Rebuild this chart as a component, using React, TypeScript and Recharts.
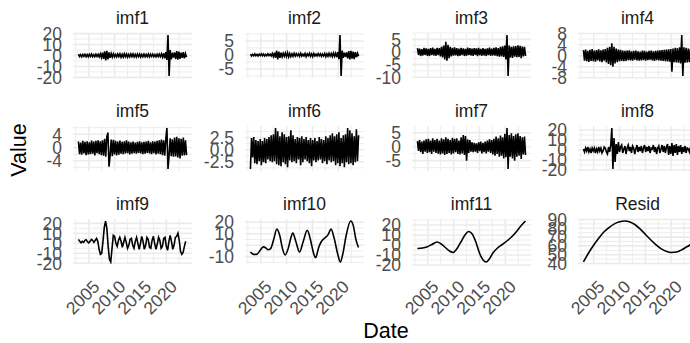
import { LineChart, Line, XAxis, YAxis, CartesianGrid } from 'recharts'

const FONT = '"Liberation Sans", Arial, Helvetica, sans-serif'
const TICK_COLOR = '#4D4D4D'
const GRID = '#EBEBEB'

// time axis (decimal years)
const T_START = 2003.0
const T_END = 2023.92
const X_DOMAIN: [number, number] = [2001.95, 2024.97]
const yearTicks = [2005, 2010, 2015, 2020]
const yearMinor = [2002.5, 2007.5, 2012.5, 2017.5, 2022.5]

// high frequency components, evenly spaced over the period
const imf1 = [
  1.2, -1, 0.8, -1.3, 1, -0.7, 1.1, -1, 0.9, -1.2,
  1, -0.9, 1.3, -1, 0.8, -1.1, 1.2, -0.9, 1, -1.3,
  1.5, -1.8, 2.5, -3, 3.8, -4.5, 4.2, -3.5, 2.8, -2.2,
  1.8, -1.5, 1.6, -1.2, 1, -1.3, 1.4, -1, 1.5, -1.6,
  1.2, -1.4, 1.6, -1.1, 1.3, -1.5, 1, -1.2, 1.4, -1,
  1.5, -1.2, 1.1, -1.4, 1.3, -1, 1.2, -1.5, 1, -1.1,
  1.3, -1.2, 1, -1.1, 1.4, -1.3, 1.1, -0.9, 1.2, -1,
  0.9, -1.2, 1.1, -1, 1.3, -1.1, 1.5, -1.6, 2, -2.5,
  3, -4, 18.7, -18.7, 5, -3.5, 2.5, -2, 2.8, -3.2,
  4, -3.8, 3.5, -3, 2.6, -2.2, 3, -2.5, 1.8, -1.5,
]
const imf2 = [
  0.3, -0.4, 0.2, -0.3, 0.4, -0.3, 0.2, -0.4, 0.3, -0.2,
  0.4, -0.3, 0.3, -0.4, 0.2, -0.3, 0.4, -0.2, 0.3, -0.4,
  0.5, -0.6, 0.8, -1, 1.5, -1.6, 1.2, -1, 0.8, -0.7,
  0.6, -0.5, 0.7, -0.6, 0.8, -0.7, 0.5, -0.6, 0.4, -0.5,
  0.6, -0.4, 0.5, -0.3, 0.4, -0.5, 0.6, -0.4, 0.3, -0.4,
  0.5, -0.6, 0.4, -0.3, 0.6, -0.5, 0.4, -0.6, 0.5, -0.4,
  0.3, -0.4, 0.5, -0.3, 0.4, -0.5, 0.3, -0.4, 0.5, -0.6,
  0.4, -0.5, 0.6, -0.4, 0.5, -0.6, 0.7, -0.5, 0.6, -0.8,
  1, -1.5, 7.1, -7.5, 1.5, -1, 0.8, -0.7, 0.9, -1.2,
  1.4, -1.6, 1.5, -1.3, 1.2, -1.5, 1, -0.8, 0.6, -0.5,
]
const imf3 = [
  1.5, -1.2, 1.3, -1.6, 1.1, -1.4, 1.6, -1.2, 1.4, -1.5,
  1.2, -1.6, 1.5, -1.3, 1.7, -1.4, 1.2, -1.5, 1.6, -1.3,
  1.5, -1.8, 2, -2.2, 2.5, -3, 4, -3.5, 2.8, -2.5,
  2, -1.8, 1.6, -1.5, 1.8, -1.4, 1.5, -1.7, 1.3, -1.5,
  1.6, -1.3, 1.4, -1.6, 1.2, -1.5, 1.7, -1.3, 1.5, -1.4,
  1.3, -1.6, 1.5, -1.2, 1.4, -1.7, 1.6, -1.3, 1.2, -1.5,
  1.5, -1.4, 1.2, -1.6, 1.4, -1.3, 1.7, -1.5, 1.3, -1.4,
  1.6, -1.5, 1.8, -1.7, 1.5, -1.9, 2, -1.8, 2.2, -2,
  2.5, -3, 6.7, -9.5, 2.5, -2.2, 2, -2.4, 2.2, -1.9,
  2.3, -2.1, 2.6, -2, 2.4, -2.5, 2.1, -1.8, 2, -1.6,
]
const imf4 = [
  2, -1.8, 2.2, -2, 1.7, -2.3, 2.1, -1.9, 2.4, -2,
  1.8, -2.2, 2, -1.7, 2.3, -2.1, 1.9, -2.4, 2.2, -1.8,
  2.4, -2.5, 2.8, -3, 3.2, -3.5, 4.5, -4, 3.2, -2.8,
  2.6, -2.4, 2.2, -2, 2.1, -1.9, 1.8, -2, 1.7, -1.9,
  1.8, -1.6, 1.9, -1.7, 1.6, -1.8, 1.7, -1.5, 1.8, -1.7,
  1.6, -1.8, 1.5, -1.7, 1.8, -1.6, 1.7, -1.8, 1.5, -1.6,
  1.7, -1.5, 1.8, -1.7, 1.6, -1.9, 1.7, -1.6, 1.8, -1.7,
  1.9, -1.8, 2, -1.9, 2.1, -2, 2.2, -2.1, 2.3, -2.2,
  2.4, -5.8, 2.6, -2.4, 2.8, -2.5, 2.7, -2.6, 3, -2.8,
  7.46, -7.36, 3, -2.6, 2.8, -2.5, 2.6, -2.4, 2.5, -2.2,
]
const imf5 = [
  1.8, -2, 1.5, -2.2, 2, -1.8, 1.7, -2.3, 1.9, -2.1,
  1.6, -2, 2.1, -1.9, 1.8, -2.4, 2, -1.7, 2.2, -2,
  1.9, -2.3, 2.2, -2.5, 2.6, -2.8, 3.2, 4.5, -5.8, -2.5,
  2.4, -2.6, 2.3, -2.1, 2, -2.4, 1.8, -2.2, 2.1, -1.9,
  1.7, -2, 1.9, -1.8, 2.2, -1.7, 1.8, -2.1, 1.6, -1.9,
  1.8, -1.7, 1.5, -1.9, 1.7, -1.6, 1.9, -1.8, 1.6, -2,
  1.7, -1.9, 1.8, -1.6, 2, -1.8, 1.6, -2, 1.9, -1.7,
  1.8, -2.1, 2, -1.9, 2.2, -2, 2.4, -2.3, 2.2, -2.5,
  2.6, 5.88, -6.48, -2.4, 2.8, -2.6, 2.5, -2.8, 3, -2.7,
  3.2, -3, 2.8, -3.3, 2.6, -2.5, 3, -2.4, 2.2, -2.3,
]
const imf6 = [
  -3.98, 2.4, -1.6, 2.6, -2.8, 2, -3, 1.8, -2.4, 2.2,
  -3.2, 1.8, -2.6, 2.4, -2.8, 2.2, -2, 2.6, -2.4, 3,
  -2.6, 3.2, -2.4, 4.48, -3, 3.8, -3.2, 2.8, -3.4, 3.6,
  -2.6, 3.2, -3, 2.6, -3.6, 2.8, -2.2, 4, -2.6, 3,
  -2.4, 2.2, -2.8, 2.6, -2, 2.4, -3.2, 2.8, -2.6, 2.2,
  -2, 2.6, -2.4, 2, -2.8, 2.4, -3.4, 2, -2.2, 2.4,
  -2.6, 1.8, -2.2, 2.6, -2, 2.2, -2.8, 2, -2.4, 2.8,
  -3, 2.4, -2.2, 3, -2.6, 3.4, -2.4, 2.8, -3.2, 3.2,
  -2.8, 3.6, -3.4, 2.4, -2.8, 3, -3.6, 3.2, -2.6, 4.48,
  -3, 4, -2.8, 3.4, -3.2, 2.8, -2.6, 4.2, -2.4, 3,
]
const imf7 = [
  2, -1.5, 2.4, -2, 1.8, -2.6, 2.2, -1.8, 2.6, -2.2,
  2.8, -2, 2.2, -2.6, 3, -1.8, 2.4, -2.2, 2.8, -2.5,
  2.2, -2.8, 3, -2.4, 2.6, -3, 3.4, -2.6, 2.8, -2.2,
  2.4, -2.8, 3.2, -2.4, 2.8, -2, 3, -2.6, 2.2, -2.8,
  3.4, -2.4, 4.2, -3, 3.8, -5, 2.6, -2.2, 2.4, -1.8,
  1.6, -2, 1.4, -1.8, 1.2, -2.2, 1.6, -1.6, 1.8, -2.4,
  1.4, -2, 1.8, -2.4, 2.2, -1.8, 2.6, -2.2, 2.4, -2.8,
  2.8, -3.2, 3.6, -2.6, 3, -3.6, 4, -3.2, 3.4, -4.2,
  4.6, -3.8, 6.67, -7.97, 4.2, -3.6, 4.8, -4.2, 3.8, -5,
  4.4, -3.6, 4.8, -3.2, 3.8, -4.4, 3.4, -2.8, 3.6, -3,
]
const imf8 = [
  1, -2, 2, -1, 3, -2, 1, -3, 2, -1,
  2, -3, 1, -2, 3, -1, 2, -3, -1, 3,
  2, -2, -4, 3, -2, 5, 21.95, -18.95, 12, -12,
  6, -4, 8, -2, 3, 5, -3, 1, 4, -4,
  2, 5, -1, 3, -3, 4, 2, -4, 1, 5,
  -2, 3, -1, 4, -3, 2, 5, -2, 3, -1,
  4, -3, 2, 1, 5, -2, 3, -4, 2, 4,
  -3, 1, 5, -2, 4, -3, 3, 6, -5, 4,
  -4, 7, -6, 5, -3, 6, -5, 4, -2, 5,
  -4, 3, -2, 4, -3, 2, 1, -2, 3, -1,
]
// quarterly
const imf9 = [
  4, 2, 0.5, 2, 1, 3, 3.5, 1.5, 0.5, 2, 4, 3,
  1, 3, 5, 2, -6, -11, -10, 2, 16, 22.3, 15, -3,
  -16, -18.65, -5, 8, 7, 0, -3, 3, 6, 2, -4, 1,
  6, 1, -5, -2, 4, 5, -2, -5, 2, 6, 0, -6,
  0, 7, 2, -6, -2, 6, 4, -4, -5, 3, 7, 0,
  -6, -1, 6, 3, -5, -3, 5, 6, -3, -7, 2, 8,
  2, -6, -2, 6, 7, 10, 3, -8, -11, -9, -3, 2,
]
// slow components, (year, value) pairs
const imf10Years = [
  2003.0, 2003.6, 2004.2, 2004.8, 2005.5, 2006.0, 2006.4, 2006.9, 2007.5, 2008.1,
  2008.7, 2009.2, 2009.7, 2010.3, 2010.8, 2011.2, 2011.8, 2012.5, 2013.2, 2014.0,
  2014.6, 2015.1, 2015.6, 2016.2, 2016.7, 2017.3, 2018.0, 2018.6, 2019.2, 2019.9,
  2020.4, 2020.9, 2021.5, 2022.4, 2022.9, 2023.4, 2023.9,
]
const imf10Values = [
  -6, -8, -8, -5, -1.5, -2.5, -4, -3, 5, 14,
  8, -3, -8.5, -3, 6, 10.5, 3, -6, 3, 13,
  5, -5, -11, -2, 3, 6, 9, 14, 6, -8,
  -14.6, -7, 8, 21, 17, 5, -2,
]
const imf11Years = [
  2003.0, 2004.0, 2004.8, 2005.8, 2006.8, 2007.6, 2008.4, 2009.2, 2009.9, 2010.6,
  2011.4, 2012.2, 2012.9, 2013.6, 2014.3, 2015.0, 2015.7, 2016.3, 2016.9, 2017.6,
  2018.5, 2019.4, 2020.3, 2021.2, 2022.1, 2023.0, 2023.9,
]
const imf11Values = [
  -3.5, -3, -2, 0.5, 3, 1, -2.5, -6, -7.5, -4,
  3, 10, 13.5, 11, 3, -8, -15, -17, -14, -8,
  -3, 0.5, 4, 8, 13, 19, 24,
]
const residYears = [
  2003.0, 2004.0, 2005.0, 2006.0, 2007.0, 2008.0, 2009.0, 2010.0, 2011.0, 2012.0,
  2013.0, 2014.0, 2015.0, 2016.0, 2017.0, 2018.0, 2019.0, 2020.0, 2021.0, 2022.0,
  2023.0, 2023.9,
]
const residValues = [
  41.8, 52, 61, 69, 76, 81, 85, 87.3, 88.2, 87.2,
  84, 79, 73, 67, 61.5, 57, 54, 52.5, 53, 55.5,
  59, 62,
]

// layout (px)
const COL_LEFT = [73, 245, 412, 578]
const ROW_TOP = [33, 126, 219]
const PANEL_W = 119
const PANEL_H = 45
const AXIS_W = 60
const PAD = 12
const XAXIS_H = 70

type Pt = { t: number; v: number }

const evenly = (vals: number[]): Pt[] =>
  vals.map((v, i) => ({ t: T_START + (i * (T_END - T_START)) / (vals.length - 1), v }))
const paired = (ts: number[], vals: number[]): Pt[] => ts.map((t, i) => ({ t, v: vals[i] }))

// ggplot style 5% expansion
const expand = (vals: number[]): [number, number] => {
  const lo = Math.min(...vals)
  const hi = Math.max(...vals)
  const pad = (hi - lo) * 0.05
  return [lo - pad, hi + pad]
}

type Spec = {
  title: string
  data: Pt[]
  ticks: number[]
  minor: number[]
  decimals?: number
  smooth?: boolean
}

const panels: Spec[] = [
  { title: 'imf1', data: evenly(imf1), ticks: [-20, -10, 0, 10, 20], minor: [-15, -5, 5, 15] },
  { title: 'imf2', data: evenly(imf2), ticks: [-5, 0, 5], minor: [-7.5, -2.5, 2.5, 7.5] },
  { title: 'imf3', data: evenly(imf3), ticks: [-10, -5, 0, 5], minor: [-7.5, -2.5, 2.5, 7.5] },
  { title: 'imf4', data: evenly(imf4), ticks: [-8, -4, 0, 4, 8], minor: [-6, -2, 2, 6] },
  { title: 'imf5', data: evenly(imf5), ticks: [-4, 0, 4], minor: [-6, -2, 2, 6] },
  { title: 'imf6', data: evenly(imf6), ticks: [-2.5, 0, 2.5], minor: [-3.75, -1.25, 1.25, 3.75], decimals: 1 },
  { title: 'imf7', data: evenly(imf7), ticks: [-5, 0, 5], minor: [-7.5, -2.5, 2.5, 7.5] },
  { title: 'imf8', data: evenly(imf8), ticks: [-20, -10, 0, 10, 20], minor: [-15, -5, 5, 15] },
  {
    title: 'imf9',
    data: imf9.map((v, i) => ({ t: T_START + i * 0.25, v })),
    ticks: [-20, -10, 0, 10, 20],
    minor: [-15, -5, 5, 15],
  },
  { title: 'imf10', data: paired(imf10Years, imf10Values), ticks: [-10, 0, 10, 20], minor: [-15, -5, 5, 15], smooth: true },
  { title: 'imf11', data: paired(imf11Years, imf11Values), ticks: [-20, -10, 0, 10, 20], minor: [-15, -5, 5, 15, 25], smooth: true },
  { title: 'Resid', data: paired(residYears, residValues), ticks: [40, 50, 60, 70, 80, 90], minor: [45, 55, 65, 75, 85], smooth: true },
]

const YTick = (props: any) => {
  const { y, payload, decimals } = props
  return (
    <text x={AXIS_W - 11} y={y} dy="0.36em" textAnchor="end" fill={TICK_COLOR} fontSize={17.5} fontFamily={FONT}>
      {Number(payload.value).toFixed(decimals)}
    </text>
  )
}

const XTick = (props: any) => {
  const { x, payload } = props
  const ax = x + 3
  const ay = PAD + PANEL_H + 15
  return (
    <text
      x={ax}
      y={ay}
      dy="0.72em"
      textAnchor="end"
      transform={`rotate(-45 ${ax} ${ay})`}
      fill={TICK_COLOR}
      fontSize={17.5}
      fontFamily={FONT}
    >
      {payload.value}
    </text>
  )
}

function Panel({ spec, index }: { spec: Spec; index: number }) {
  const col = index % 4
  const row = Math.floor(index / 4)
  const bottom = row === 2
  const domain = expand(spec.data.map((d) => d.v))
  const minor = spec.minor.filter((v) => v > domain[0] && v < domain[1])
  const dec = spec.decimals ?? 0
  return (
    <div style={{ position: 'absolute', left: COL_LEFT[col] - AXIS_W, top: ROW_TOP[row] - PAD }}>
      <LineChart
        width={AXIS_W + PANEL_W}
        height={PAD + PANEL_H + (bottom ? XAXIS_H : PAD)}
        data={spec.data}
        margin={{ top: PAD, right: 0, bottom: bottom ? 0 : PAD, left: 0 }}
      >
        <CartesianGrid stroke={GRID} strokeWidth={0.9} horizontalValues={minor} verticalValues={yearMinor} />
        <CartesianGrid stroke={GRID} strokeWidth={1.6} horizontalValues={spec.ticks} verticalValues={yearTicks} />
        <XAxis
          dataKey="t"
          type="number"
          domain={X_DOMAIN}
          allowDataOverflow
          ticks={yearTicks}
          interval={0}
          hide={!bottom}
          height={XAXIS_H}
          axisLine={false}
          tickLine={false}
          tick={XTick}
        />
        <YAxis
          type="number"
          domain={domain}
          allowDataOverflow
          ticks={spec.ticks}
          interval={0}
          width={AXIS_W}
          axisLine={false}
          tickLine={false}
          tick={(p: any) => <YTick {...p} decimals={dec} />}
        />
        <Line
          dataKey="v"
          type={spec.smooth ? 'monotone' : 'linear'}
          stroke="#000000"
          strokeWidth={1.6}
          dot={false}
          isAnimationActive={false}
        />
      </LineChart>
    </div>
  )
}

export default function App() {
  return (
    <div
      style={{
        position: 'absolute',
        left: 0,
        top: 0,
        width: 690,
        height: 343,
        overflow: 'hidden',
        background: '#ffffff',
      }}
    >
      {panels.map((p, i) => (
        <Panel key={p.title} spec={p} index={i} />
      ))}
      <svg width={690} height={343} style={{ position: 'absolute', left: 0, top: 0, pointerEvents: 'none' }}>
        {panels.map((p, i) => (
          <text
            key={p.title}
            x={COL_LEFT[i % 4] + PANEL_W / 2}
            y={ROW_TOP[Math.floor(i / 4)] - 15.5}
            dy="0.36em"
            textAnchor="middle"
            fill="#1A1A1A"
            fontSize={17.5}
            fontFamily={FONT}
          >
            {p.title}
          </text>
        ))}
        <text x={18} y={150} dy="0.36em" textAnchor="middle" transform="rotate(-90 18 150)" fontSize={21.5} fontFamily={FONT} fill="#000">
          Value
        </text>
        <text x={386} y={330} dy="0.36em" textAnchor="middle" fontSize={21.5} fontFamily={FONT} fill="#000">
          Date
        </text>
      </svg>
    </div>
  )
}
